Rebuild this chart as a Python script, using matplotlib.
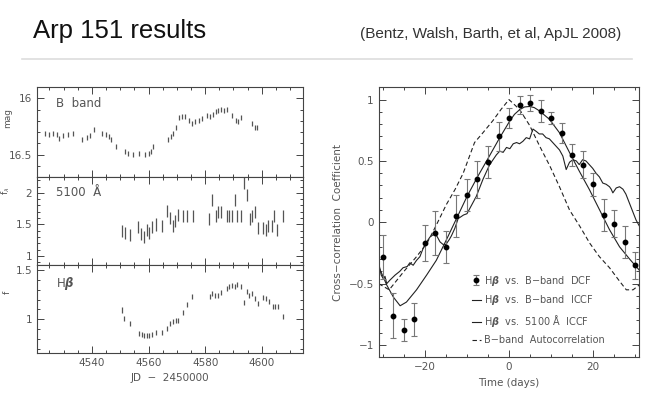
import matplotlib.pyplot as plt
import numpy as np
from matplotlib.ticker import MultipleLocator

# B band light curve (mag)
b_jd = [4523.6, 4524.8, 4526.3, 4527.5, 4528.5, 4529.9, 4531.6, 4533.4, 4536.6, 4538.4,
        4539.3, 4540.8, 4543.7, 4544.8, 4546.0, 4546.7, 4548.6, 4551.8, 4552.8, 4554.6,
        4556.7, 4558.7, 4560.1, 4560.7, 4561.7, 4566.7, 4567.8, 4568.6, 4569.7, 4570.7,
        4571.8, 4572.9, 4574.4, 4575.5, 4576.4, 4577.8, 4578.8, 4580.8, 4581.6, 4582.9,
        4583.8, 4584.6, 4585.6, 4586.5, 4587.6, 4589.6, 4590.8, 4591.7, 4592.8, 4596.4,
        4597.6, 4598.4]
b_mag = [16.31, 16.32, 16.31, 16.32, 16.36, 16.33, 16.32, 16.31, 16.37, 16.35,
         16.33, 16.28, 16.31, 16.32, 16.34, 16.37, 16.43, 16.47, 16.49, 16.50,
         16.49, 16.50, 16.49, 16.47, 16.43, 16.37, 16.34, 16.31, 16.26, 16.17,
         16.16, 16.16, 16.20, 16.22, 16.21, 16.20, 16.18, 16.15, 16.16, 16.14,
         16.12, 16.11, 16.10, 16.11, 16.10, 16.15, 16.20, 16.21, 16.17, 16.22,
         16.26, 16.26]
b_err = 0.022

# 5100 A continuum flux
c_jd = [4550.5, 4551.7, 4553.4, 4556.4, 4557.3, 4558.4, 4559.3, 4560.3, 4561.4, 4562.5,
        4564.6, 4566.6, 4567.6, 4568.5, 4569.3, 4570.5, 4572.3, 4573.5, 4575.6, 4581.5,
        4582.5, 4583.7, 4584.6, 4585.5, 4587.6, 4588.5, 4589.6, 4590.6, 4591.4, 4592.5,
        4593.8, 4594.7, 4595.8, 4596.7, 4597.6, 4598.8, 4600.5, 4601.4, 4602.3, 4603.5,
        4604.4, 4605.5, 4607.6]
c_flux = [1.40, 1.37, 1.33, 1.46, 1.35, 1.30, 1.41, 1.37, 1.46, 1.50,
          1.48, 1.71, 1.61, 1.48, 1.55, 1.65, 1.63, 1.64, 1.63, 1.59,
          1.89, 1.63, 1.69, 1.70, 1.63, 1.64, 1.63, 1.89, 1.64, 1.64,
          2.16, 1.96, 1.58, 1.63, 1.69, 1.44, 1.45, 1.42, 1.47, 1.48,
          1.63, 1.41, 1.63]
c_err = 0.095

# Hbeta flux
h_jd = [4550.5, 4551.4, 4553.4, 4556.6, 4557.6, 4558.4, 4559.3, 4560.3, 4561.4, 4562.6,
        4564.6, 4566.4, 4567.6, 4568.5, 4569.6, 4570.5, 4572.3, 4573.5, 4575.5, 4581.7,
        4582.5, 4583.5, 4584.6, 4585.6, 4587.6, 4588.5, 4589.6, 4590.5, 4591.4, 4592.5,
        4593.7, 4594.7, 4595.6, 4596.7, 4597.6, 4598.5, 4600.5, 4601.5, 4602.5, 4603.8,
        4604.6, 4605.6, 4607.6]
h_flux = [1.095, 1.01, 0.96, 0.86, 0.85, 0.84, 0.84, 0.84, 0.85, 0.87,
          0.87, 0.91, 0.96, 0.98, 0.99, 0.99, 1.07, 1.15, 1.23, 1.23,
          1.26, 1.24, 1.24, 1.27, 1.31, 1.33, 1.34, 1.33, 1.35, 1.33,
          1.17, 1.28, 1.24, 1.26, 1.21, 1.16, 1.22, 1.21, 1.18, 1.13,
          1.13, 1.13, 1.03]
h_err = 0.027

# Hbeta vs B-band DCF
dcf_lag = [-30, -27.5, -25, -22.5, -20, -17.5, -15, -12.5, -10, -7.5, -5, -2.5, 0,
           2.5, 5, 7.5, 10, 12.5, 15, 17.5, 20, 22.5, 25, 27.5, 30]
dcf_r = [-0.28, -0.76, -0.88, -0.79, -0.17, -0.09, -0.20, 0.05, 0.22, 0.35, 0.49, 0.70, 0.85,
         0.955, 0.97, 0.91, 0.85, 0.73, 0.55, 0.47, 0.31, 0.06, -0.01, -0.16, -0.35]
dcf_err = [0.18, 0.18, 0.09, 0.135, 0.145, 0.18, 0.13, 0.17, 0.13, 0.15, 0.13, 0.12, 0.085,
           0.075, 0.065, 0.09, 0.05, 0.08, 0.09, 0.11, 0.095, 0.13, 0.11, 0.13, 0.11]

# Hbeta vs B-band ICCF
iccf_b_lag = [-31, -29.1, -27.5, -25.9, -24.4, -22, -19.6, -17.3, -15, -12.5, -10, -7.5, -5,
              -2.2, 0.2, 1.3, 2.5, 3.7, 4.9, 6, 7.2, 9.6, 12, 14.4, 16.7, 19.1, 21.5, 23.9,
              26.3, 28.7, 31]
iccf_b_r = [-0.36, -0.51, -0.61, -0.68, -0.65, -0.55, -0.43, -0.31, -0.15, 0.03, 0.21, 0.37, 0.52,
            0.69, 0.827, 0.88, 0.917, 0.94, 0.944, 0.935, 0.909, 0.84, 0.73, 0.568, 0.418, 0.268,
            0.104, -0.06, -0.2, -0.3, -0.39]

# Hbeta vs 5100 A ICCF
iccf_c_lag = [-31, -30.4, -29.9, -29.5, -29.1, -28.3, -27.1, -26.0, -25.2, -24.2, -23.6, -22.8,
              -22.0, -21.2, -20.4, -19.6, -18.8, -18.0, -17.2, -16.4, -15.7, -15.0, -14.2, -13.7,
              -12.9, -12.1, -10.8, -10.0, -7.8, -6.2, -4.6, -3.0, -2.2, -1.4, -0.6, 0.2, 1.0, 1.8,
              2.5, 3.3, 4.1, 4.9, 5.7, 6.5, 7.2, 8.0, 8.8, 9.6, 10.4, 11.2, 12.0, 12.8, 13.6,
              14.4, 15.2, 16.0, 16.7, 17.5, 18.3, 19.1, 19.9, 20.7, 21.5, 22.3, 23.1, 23.9,
              24.3, 24.7, 25.5, 26.3, 27.1, 27.8, 28.6, 29.4, 30.2, 31.0]
iccf_c_r = [-0.33, -0.43, -0.46, -0.44, -0.50, -0.47, -0.43, -0.40, -0.37, -0.36, -0.33, -0.35,
            -0.31, -0.28, -0.21, -0.16, -0.12, -0.10, -0.11, -0.16, -0.18, -0.18, -0.14, -0.11,
            -0.05, 0.03, 0.06, 0.07, 0.21, 0.35, 0.47, 0.55, 0.58, 0.57, 0.61, 0.60, 0.64, 0.65,
            0.64, 0.66, 0.69, 0.68, 0.76, 0.74, 0.72, 0.72, 0.69, 0.68, 0.65, 0.62, 0.59, 0.54,
            0.43, 0.49, 0.51, 0.50, 0.47, 0.51, 0.50, 0.47, 0.44, 0.40, 0.37, 0.32, 0.31, 0.29,
            0.27, 0.24, 0.28, 0.29, 0.27, 0.23, 0.16, 0.09, 0.02, -0.03]

# B-band autocorrelation
acf_lag = [-31, -28.5, -25, -22, -19.5, -17.4, -14.9, -12.8, -10.9, -8.2, -6.2, -3.8, -1.9, 0,
           2.5, 4.9, 7.3, 9.7, 12, 14.4, 16.8, 19.2, 21.5, 23.9, 26.3, 27.9, 29.5, 31]
acf_r = [-0.50, -0.55, -0.40, -0.28, -0.17, -0.03, 0.145, 0.27, 0.40, 0.65, 0.73, 0.83, 0.92, 1.0,
         0.92, 0.79, 0.62, 0.46, 0.29, 0.10, -0.03, -0.17, -0.28, -0.37, -0.48, -0.55, -0.55, -0.51]

gray = '#444444'
lgray = '#555555'
plt.rcParams['font.family'] = 'DejaVu Sans'

fig = plt.figure(figsize=(6.5, 3.96), dpi=100)

# slide header
fig.text(0.051, 0.905, 'Arp 151 results', fontsize=18.5, color='#111111', family='Liberation Sans')
fig.text(0.955, 0.905, '(Bentz, Walsh, Barth, et al, ApJL 2008)', ha='right', fontsize=11,
         color='#333333', family='Liberation Sans')
fig.add_artist(plt.Line2D([0.034, 0.972], [0.852, 0.852], color='#dddddd', lw=1.2))


def style(ax, xmaj, xmin, ymaj, ymin):
    ax.xaxis.set_major_locator(MultipleLocator(xmaj))
    ax.xaxis.set_minor_locator(MultipleLocator(xmin))
    ax.yaxis.set_major_locator(MultipleLocator(ymaj))
    ax.yaxis.set_minor_locator(MultipleLocator(ymin))
    ax.tick_params(which='both', direction='in', top=True, right=True, colors=gray,
                   labelcolor=lgray, labelsize=7.5, width=0.7)
    ax.tick_params(which='major', length=5)
    ax.tick_params(which='minor', length=2.5)
    for s in ax.spines.values():
        s.set_color(gray)
        s.set_linewidth(0.8)


# left: light curves
lx0, lw = 0.0569, 0.409
ax1 = fig.add_axes([lx0, 0.553, lw, 0.227])
ax2 = fig.add_axes([lx0, 0.3308, lw, 0.2222], sharex=ax1)
ax3 = fig.add_axes([lx0, 0.1086, lw, 0.2222], sharex=ax1)

ax1.errorbar(b_jd, b_mag, yerr=b_err, fmt='none', ecolor='#555555', elinewidth=0.9)
ax2.errorbar(c_jd, c_flux, yerr=c_err, fmt='none', ecolor='#555555', elinewidth=0.9)
ax3.errorbar(h_jd, h_flux, yerr=h_err, fmt='none', ecolor='#555555', elinewidth=0.9)

ax1.set_xlim(4520.6, 4614.5)
ax1.set_ylim(16.7, 15.9)
ax2.set_ylim(0.86, 2.25)
ax3.set_ylim(0.66, 1.55)

style(ax1, 20, 5, 0.5, 0.1)
style(ax2, 20, 5, 0.5, 0.1)
style(ax3, 20, 5, 0.5, 0.1)
ax1.tick_params(labelbottom=False)
ax2.tick_params(labelbottom=False)
ax1.set_yticks([16, 16.5], ['16', '16.5'])
ax2.set_yticks([1, 1.5, 2], ['1', '1.5', '2'])
ax3.set_yticks([1, 1.5], ['1', '1.5'])

ax1.set_ylabel('mag', fontsize=6.5, color=lgray)
ax2.set_ylabel(r'f$_\lambda$', fontsize=6.5, color=lgray)
ax3.set_ylabel('f', fontsize=6.5, color=lgray)
ax1.yaxis.set_label_coords(-0.094, 0.655)
ax2.yaxis.set_label_coords(-0.094, 0.84)
ax3.yaxis.set_label_coords(-0.094, 0.69)
ax3.set_xlabel('JD  \u2212  2450000', fontsize=7.5, color=lgray, labelpad=4)

ax1.text(0.07, 0.78, 'B  band', transform=ax1.transAxes, fontsize=8.5, color=lgray)
ax2.text(0.07, 0.78, '5100  Å', transform=ax2.transAxes, fontsize=8.5, color=lgray)
ax3.text(0.07, 0.75, 'H$\\boldsymbol{\\beta}$', transform=ax3.transAxes, fontsize=8.5, color=lgray)

# right: cross-correlation
ax = fig.add_axes([0.5826, 0.0977, 0.401, 0.6818])
l1, = ax.plot(iccf_b_lag, iccf_b_r, color='#222222', lw=0.8)
l2, = ax.plot(iccf_c_lag, iccf_c_r, color='#222222', lw=0.8)
l3, = ax.plot(acf_lag, acf_r, color='#222222', lw=0.8, ls=(0, (4, 2.5)))
eb = ax.errorbar(dcf_lag, dcf_r, yerr=dcf_err, fmt='o', color='black', ms=3.2,
                 ecolor='#777777', elinewidth=0.8, capsize=2, capthick=0.8)

ax.set_xlim(-31, 31)
ax.set_ylim(-1.1, 1.1)
style(ax, 20, 5, 0.5, 0.1)
ax.set_yticks([-1, -0.5, 0, 0.5, 1], ['\u22121', '\u22120.5', '0', '0.5', '1'])
ax.set_xticks([-20, 0, 20], ['\u221220', '0', '20'])
ax.set_xlabel('Time (days)', fontsize=7.5, color=lgray, labelpad=4)
ax.set_ylabel('Cross\u2212correlation  Coefficient', fontsize=7.5, color=lgray, labelpad=4)

hb = 'H$\\boldsymbol{\\beta}$'
leg = ax.legend([eb, l1, l2, l3],
                [hb + '  vs.  B\u2212band  DCF',
                 hb + '  vs.  B\u2212band  ICCF',
                 hb + '  vs.  5100 Å  ICCF',
                 'B\u2212band  Autocorrelation'],
                loc='lower left', bbox_to_anchor=(0.33, 0.02), frameon=False, fontsize=7,
                handlelength=1.0, handletextpad=0.3, labelspacing=0.6, borderpad=0.2)
for t in leg.get_texts():
    t.set_color(lgray)

fig.savefig('out.png', dpi=100)
